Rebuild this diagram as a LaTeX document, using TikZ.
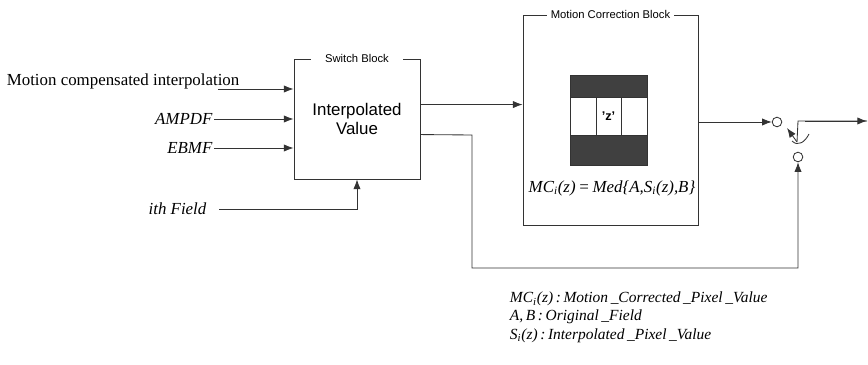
\documentclass[tikz,border=0pt]{standalone}
\usepackage{fontspec}
\setmainfont{Liberation Serif}
\setsansfont{Liberation Sans}
\usetikzlibrary{arrows.meta,calc,positioning}
\newcommand{\lowi}{\textsubscript{\itshape i}}
\tikzset{
  block/.style={draw=black!80, semithick, inner sep=0pt, align=center},
  blocktitle/.style={fill=white, font=\sffamily\fontsize{8}{9}\selectfont, inner xsep=3pt, inner ysep=1pt},
  inlabel/.style={font=\itshape\fontsize{12}{14}\selectfont, inner sep=1pt},
  darkcell/.style={fill=black!75, draw=black!80},
  cell/.style={draw=black!80, semithick},
  arrow/.style={-{Latex[length=2.4mm,width=1.8mm]}, semithick, draw=black!80},
  wire/.style={semithick, draw=black!80},
  contact/.style={draw=black!80, circle, semithick, minimum size=0.24cm, inner sep=0pt}
}
\begin{document}
\begin{tikzpicture}[x=0.025cm, y=-0.025cm]
  \useasboundingbox (0,0) rectangle (868,365);

  % switch block
  \node[block, minimum width=3.15cm, minimum height=3cm, font=\sffamily\fontsize{12}{14}\selectfont] (sw) at (357,119) {Interpolated\\Value};
  \node[blocktitle, inner xsep=10pt] (swtitle) at (sw.north) {Switch Block};

  % motion correction block
  \node[block, minimum width=4.375cm, minimum height=5.25cm] (mcb) at (610.5,120) {};
  \node[blocktitle] (mcbtitle) at (mcb.north) {Motion Correction Block};
  \draw[darkcell] (570,75) rectangle (647,97);
  \draw[cell] (570,97) rectangle (596,135);
  \draw[cell] (596,97) rectangle (621,135);
  \draw[cell] (621,97) rectangle (647,135);
  \draw[darkcell] (570,135) rectangle (647,165);
  \node[font=\sffamily\bfseries\fontsize{9}{10}\selectfont] (zcell) at (608.5,116) {'z'};
  \node[font=\itshape\fontsize{12}{14}\selectfont] (medeq) at (612,188) {MC\lowi(z)\,=\,Med\{A,S\lowi(z),B\}};

  % inputs
  \node[inlabel, anchor=base east] (mci) at (241,86) {\upshape Motion compensated interpolation};
  \coordinate (mciout) at (218,89);
  \node[inlabel, anchor=east] (ampdf) at (214,119) {AMPDF};
  \node[inlabel, anchor=east] (ebmf) at (214,148) {EBMF};
  \node[inlabel, anchor=east] (ith) at (208,209) {ith Field};

  \draw[arrow] (mciout) -- (sw.west |- mciout);
  \draw[arrow] (ampdf.east) -- (sw.west |- ampdf.east);
  \draw[arrow] (ebmf.east) -- (sw.west |- ebmf.east);
  \draw[arrow] ([xshift=8pt]ith.east) -| (sw.south);

  % switch block outputs
  \path (sw.north east) ++(0,46) coordinate (swout1) ++(0,30) coordinate (swout2);
  \draw[arrow] (swout1) -- (mcb.west |- swout1);

  % output switch
  \node[contact] (upc) at (777,122) {};
  \node[contact] (lowc) at (798,157) {};
  \coordinate (pivot) at (797,142);
  \coordinate (outend) at (867,121);
  \draw[arrow] (mcb.east |- upc.west) -- (upc.west);
  \draw[arrow] (pivot) -- (787,128);
  \draw[wire] (pivot) -- (798,121) -- (outend);
  \draw[arrow] (805,121) -- (outend);
  \draw[wire] (792,141) .. controls (798,147) and (805,142) .. (809,134);
  \draw[arrow] (swout2) -- (472,135) -- (472,268) -| (lowc.south);

  % legend
  \node[font=\itshape\fontsize{11}{13}\selectfont, align=left, anchor=north west] (legend) at (505,287)
    {MC\lowi(z)\,:\,Motion\,\_Corrected\,\_Pixel\,\_Value\\
     A,\,B\,:\,Original\,\_Field\\
     S\lowi(z)\,:\,Interpolated\,\_Pixel\,\_Value};
\end{tikzpicture}
\end{document}
